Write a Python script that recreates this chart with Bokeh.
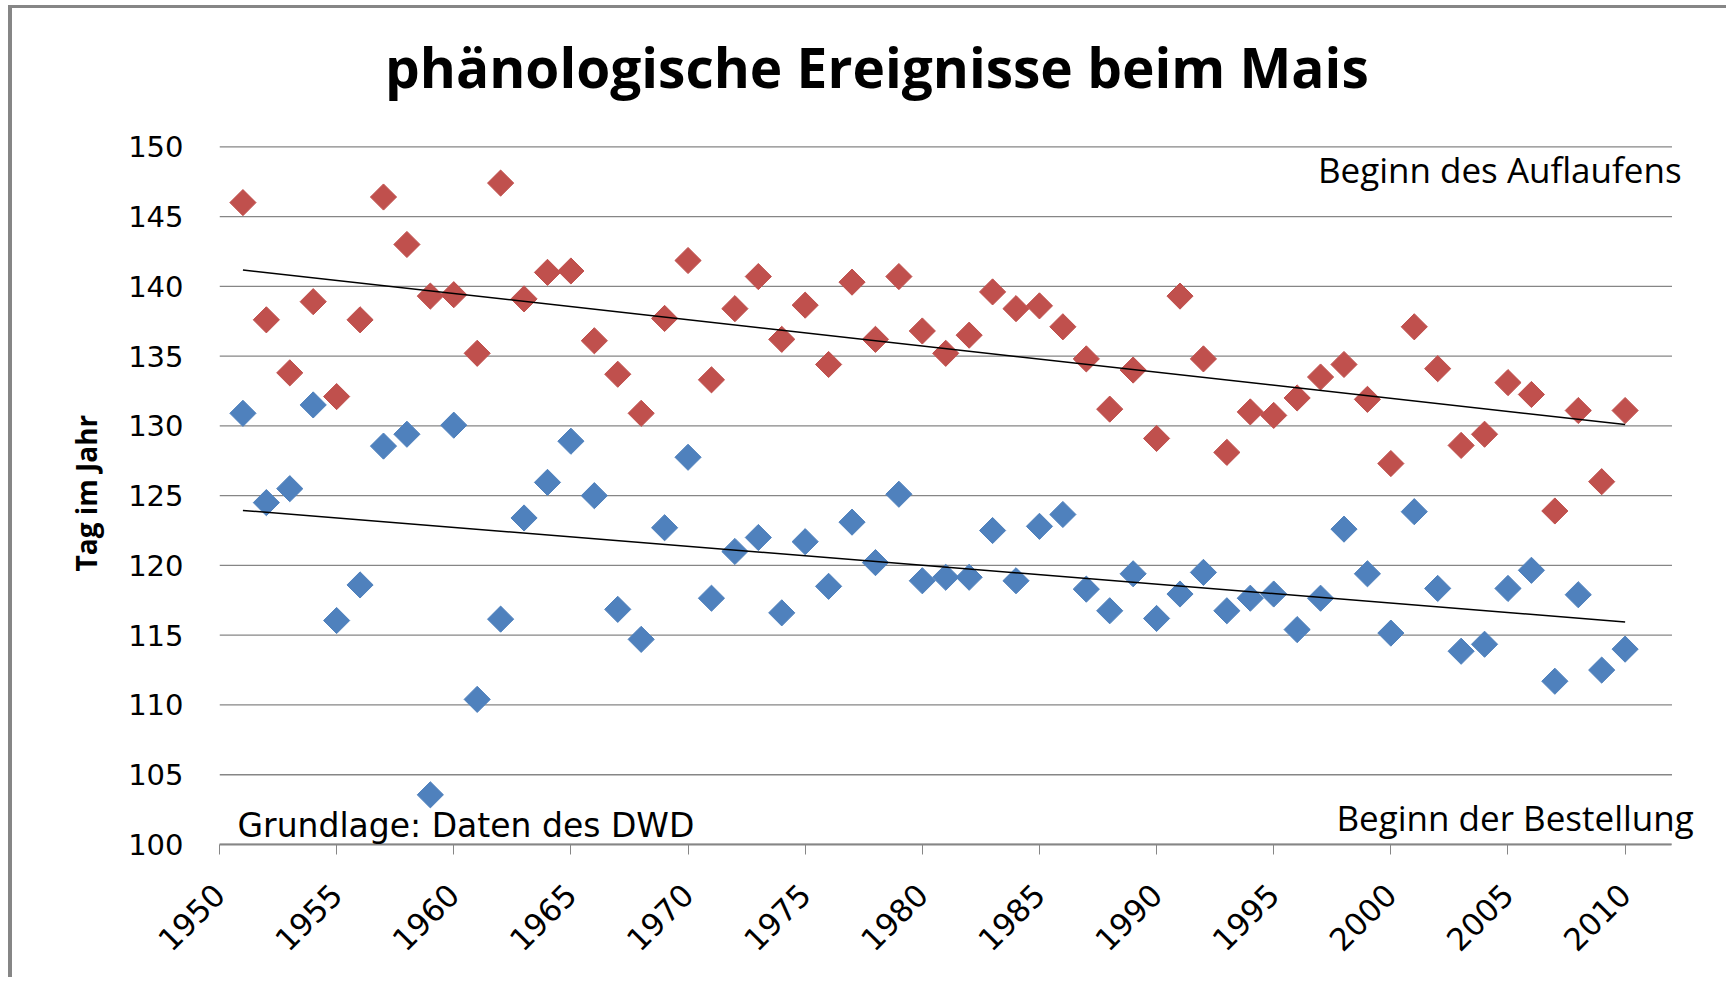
import numpy as np
from math import pi
from bokeh.plotting import figure
from bokeh.models import Range1d, FixedTicker, Label, Title, ColumnDataSource
from bokeh.embed import file_html
from bokeh.resources import INLINE

# ---------------- data ----------------
years = list(range(1951, 2011))
auflaufen = [146.0, 137.6, 133.8, 138.9, 132.1, 137.6, 146.4, 143.0, 139.3, 139.4,
             135.2, 147.4, 139.1, 141.0, 141.1, 136.1, 133.7, 130.9, 137.7, 141.85,
             133.3, 138.4, 140.7, 136.2, 138.65, 134.4, 140.3, 136.2, 140.7, 136.8,
             135.2, 136.5, 139.6, 138.4, 138.6, 137.1, 134.8, 131.2, 134.0, 129.1,
             139.3, 134.8, 128.1, 131.0, 130.75, 132.0, 133.5, 134.4, 131.9, 127.3,
             137.1, 134.1, 128.6, 129.4, 133.1, 132.25, 123.9, 131.1, 126.0, 131.1]
bestellung = [130.9, 124.5, 125.5, 131.5, 116.05, 118.6, 128.55, 129.4, 103.56, 130.05,
              110.4, 116.15, 123.4, 125.95, 128.9, 125.0, 116.85, 114.7, 122.7, 127.75,
              117.65, 121.0, 122.0, 116.6, 121.7, 118.5, 123.1, 120.2, 125.1, 118.9,
              119.15, 119.15, 122.5, 118.9, 122.8, 123.65, 118.3, 116.75, 119.4, 116.2,
              117.95, 119.5, 116.75, 117.65, 117.95, 115.4, 117.65, 122.6, 119.4, 115.15,
              123.85, 118.35, 113.85, 114.35, 118.35, 119.65, 111.7, 117.9, 112.5, 114.0]
x_ticks = [1950, 1955, 1960, 1965, 1970, 1975, 1980, 1985, 1990, 1995, 2000, 2005, 2010]
x_tick_labels = ["1950", "1955", "1960", "1965", "1970", "1975", "1980", "1985",
                 "1990", "1995", "2000", "2005", "2010"]
y_ticks = [100, 105, 110, 115, 120, 125, 130, 135, 140, 145, 150]
x_axis_span = (1950, 2012)
y_axis_span = (100, 150)

title_text = "phänologische Ereignisse beim Mais"
y_label = "Tag im Jahr"
label_top = "Beginn des Auflaufens"
label_bottom = "Beginn der Bestellung"
source_text = "Grundlage: Daten des DWD"

RED = "#C0504D"
BLUE = "#4F81BD"
GRID = "#868686"

# ---------------- figure ----------------
W, H = 1718, 972
p = figure(width=W, height=H, output_backend="svg", toolbar_location=None,
           x_range=Range1d(1950, 2013.73), y_range=Range1d(100, 159.91),
           min_border_left=207, min_border_right=18, min_border_top=0,
           min_border_bottom=136,
           styles={"margin-left": "8px", "margin-top": "5px",
                   "border-left": "4px solid #868686",
                   "border-top": "3px solid #868686"})
p.title.visible = False
p.outline_line_color = None
p.background_fill_color = "white"
p.border_fill_color = "white"

p.xgrid.visible = False
p.ygrid.visible = False
# horizontal grid lines spanning only the value area
p.segment(x0=[x_axis_span[0]] * len(y_ticks), x1=[x_axis_span[1]] * len(y_ticks),
          y0=y_ticks, y1=y_ticks, line_color=GRID, line_width=1.3)

p.yaxis.ticker = FixedTicker(ticks=y_ticks)
p.yaxis.bounds = y_axis_span
p.yaxis.axis_line_color = None
p.yaxis.major_tick_line_color = None
p.yaxis.minor_tick_line_color = None
p.yaxis.major_tick_out = 0
p.yaxis.major_tick_in = 0
p.yaxis.major_label_standoff = 36
p.yaxis.major_label_text_font = "DejaVu Sans"
p.yaxis.major_label_text_font_size = "29px"
p.yaxis.major_label_text_color = "black"

# y-axis title, centred on the 100..150 value span
p.add_layout(Title(text=y_label, align="left", offset=273, standoff=42,
                   text_font="Open Sans", text_font_style="bold",
                   text_font_size="28px", text_color="black"), "left")

p.xaxis.ticker = FixedTicker(ticks=x_ticks)
p.xaxis.bounds = x_axis_span
p.xaxis.major_label_overrides = {t: s for t, s in zip(x_ticks, x_tick_labels)}
p.xaxis.axis_line_color = GRID
p.xaxis.axis_line_width = 2
p.xaxis.major_tick_line_color = GRID
p.xaxis.major_tick_out = 10
p.xaxis.major_tick_in = 0
p.xaxis.minor_tick_line_color = None
p.xaxis.major_label_orientation = pi / 4
p.xaxis.major_label_standoff = 35
p.xaxis.major_label_text_font = "DejaVu Sans"
p.xaxis.major_label_text_font_size = "31px"
p.xaxis.major_label_text_color = "black"

# ---------------- series ----------------
src = ColumnDataSource(dict(year=years, auf=auflaufen, best=bestellung))
p.scatter("year", "auf", source=src, marker="square", angle=pi / 4, size=18.5,
          fill_color=RED, line_color=RED)
p.scatter("year", "best", source=src, marker="square", angle=pi / 4, size=18.5,
          fill_color=BLUE, line_color=BLUE)

# linear trend lines (fitted from the data)
yr = np.array(years, dtype=float)
for vals in (auflaufen, bestellung):
    k, d = np.polyfit(yr, np.array(vals), 1)
    xs = [yr[0], yr[-1]]
    p.line(xs, [k * x + d for x in xs], line_color="black", line_width=1.5)

# ---------------- texts ----------------
p.add_layout(Label(x=1978.06, y=155.72, text=title_text, text_align="center",
                   text_baseline="alphabetic", text_font="Open Sans",
                   text_font_style="bold", text_font_size="55px", text_color="black"))
p.add_layout(Label(x=2012.41, y=148.37, text=label_top, text_align="right",
                   text_baseline="alphabetic", text_font="Open Sans",
                   text_font_size="35px", text_color="black"))
p.add_layout(Label(x=2012.93, y=101.94, text=label_bottom, text_align="right",
                   text_baseline="alphabetic", text_font="Open Sans",
                   text_font_size="35px", text_color="black"))
p.add_layout(Label(x=1950.77, y=101.36, text=source_text, text_align="left",
                   text_baseline="alphabetic", text_font="DejaVu Sans",
                   text_font_size="33px", text_color="black"))

open("out.html", "w").write(file_html(p, INLINE))
